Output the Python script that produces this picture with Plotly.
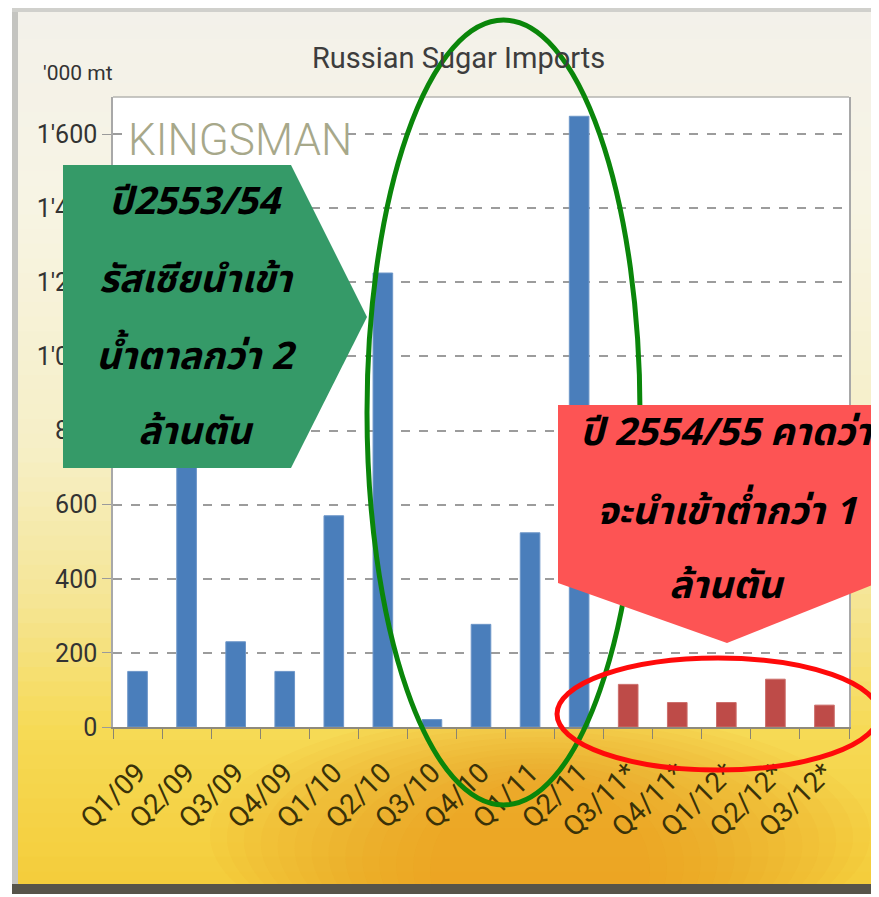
import plotly.graph_objects as go

# ---------------- data ----------------
actual_quarters = ["Q1/09", "Q2/09", "Q3/09", "Q4/09", "Q1/10", "Q2/10",
                   "Q3/10", "Q4/10", "Q1/11", "Q2/11"]
actual_imports = [150, 880, 230, 150, 570, 1225, 20, 277, 524, 1648]
forecast_quarters = ["Q3/11*", "Q4/11*", "Q1/12*", "Q2/12*", "Q3/12*"]
forecast_imports = [115, 66, 66, 129, 59]
all_quarters = actual_quarters + forecast_quarters
y_tick_values = [0, 200, 400, 600, 800, 1000, 1200, 1400, 1600]
y_tick_labels = ["0", "200", "400", "600", "800", "1'000", "1'200", "1'400", "1'600"]

title_text = "Russian Sugar Imports"
unit_text = "'000 mt"
watermark_text = "KINGSMAN"
green_lines = ["ปี2553/54", "รัสเซียนำเข้า", "น้ำตาลกว่า 2", "ล้านตัน"]
red_lines = ["ปี 2554/55 คาดว่า", "จะนำเข้าต่ำกว่า 1", "ล้านตัน"]

# ---------------- layout geometry (page pixels) ----------------
OFF = 8                      # default body margin of the html page
W, H = 879 - OFF, 897 - OFF
L, R, T, B = 113, 849, 97, 727


def px(x):
    return (x - L) / (R - L)


def py(y):
    return (B - y) / (B - T)


SANS = "Roboto, 'Noto Sans', sans-serif"
THAI = "'Noto Sans Thai', 'Loma', 'Tahoma', 'Noto Sans', sans-serif"

fig = go.Figure()
fig.add_trace(go.Bar(x=actual_quarters, y=actual_imports, width=0.4,
                     marker=dict(color="#4a7ebb", line=dict(color="#6d96c8", width=1)),
                     name="Actual"))
fig.add_trace(go.Bar(x=forecast_quarters, y=forecast_imports, width=0.4,
                     marker=dict(color="#be4b48", line=dict(color="#cc6e6b", width=1)),
                     name="Forecast"))

shapes = []


def hexc(c):
    c = c.lstrip("#")
    return tuple(int(c[i:i + 2], 16) for i in (0, 2, 4))


def interp(stops, y):
    for (y0, c0), (y1, c1) in zip(stops, stops[1:]):
        if y0 <= y <= y1:
            t = (y - y0) / (y1 - y0)
            a, b = hexc(c0), hexc(c1)
            return "rgb(%d,%d,%d)" % tuple(round(a[i] + (b[i] - a[i]) * t) for i in range(3))
    return stops[-1][1]


def rect(x0, x1, y0, y1, color, layer="below", opacity=1):
    return dict(type="rect", xref="paper", yref="paper", layer=layer,
                x0=px(x0), x1=px(x1), y0=py(y1), y1=py(y0),
                fillcolor=color, opacity=opacity, line=dict(width=0))


stops = [(10, "#f3f1ea"), (200, "#f7f4e4"), (450, "#f6efc6"), (600, "#f5e595"),
         (730, "#f6da55"), (890, "#f4cc3a")]
N = 60
y_start, y_end = 10, 886
step = (y_end - y_start) / N
for i in range(N):
    ya = y_start + i * step
    shapes.append(rect(15, 879, ya, ya + step + 0.8, interp(stops, ya + step / 2)))
# soft orange sunflower glow at bottom (many faint layers)
n_glow = 14
for k in range(n_glow):
    f = k / (n_glow - 1)
    half_w = 330 - 220 * f
    cx = 540
    top = 710 + 70 * f
    shapes.append(dict(type="circle", xref="paper", yref="paper", layer="below",
                       x0=px(cx - half_w), x1=px(cx + half_w), y0=py(960), y1=py(top),
                       fillcolor="#ec8c10", opacity=0.05, line=dict(width=0)))
# cover glow overflow below frame
shapes.append(rect(0, 879, 886, 900, "white"))
# frame borders
shapes.append(rect(12, 18, 8, 890, "#c4c4c0"))
shapes.append(rect(12, 879, 8, 12, "#d0d0cc"))
shapes.append(rect(12, 879, 884, 894, "#57544a"))
# white plot area and its light top border
shapes.append(rect(L, R, T, B, "white"))
shapes.append(dict(type="line", xref="paper", yref="paper", layer="below",
                   x0=0, x1=1, y0=1, y1=1, line=dict(color="#b4b4b0", width=1.5)))
# white patch behind the watermark (hides the grid line)
shapes.append(rect(124, 346, 116, 162, "white", layer="above"))

# green right-pointing callout
gpts = [(63, 165), (291, 165), (367, 317), (291, 468), (63, 468)]
shapes.append(dict(type="path", xref="paper", yref="paper", layer="above",
                   path="M " + " L ".join("%f,%f" % (px(x), py(y)) for x, y in gpts) + " Z",
                   fillcolor="#359a68", line=dict(width=0)))
# green ellipse
shapes.append(dict(type="circle", xref="paper", yref="paper", layer="above",
                   x0=px(367), x1=px(640), y0=py(805), y1=py(20),
                   line=dict(color="#0a860a", width=5)))
# red down-pointing callout
rpts = [(558, 405), (877, 405), (877, 583), (727, 643), (558, 583)]
shapes.append(dict(type="path", xref="paper", yref="paper", layer="above",
                   path="M " + " L ".join("%f,%f" % (px(x), py(y)) for x, y in rpts) + " Z",
                   fillcolor="#fd5454", line=dict(width=0)))
# red ellipse
shapes.append(dict(type="circle", xref="paper", yref="paper", layer="above",
                   x0=px(557), x1=px(879), y0=py(770), y1=py(658),
                   line=dict(color="#ff0a0a", width=5)))


def note(text, x, y, font, xanchor="center"):
    return dict(text=text, xref="paper", yref="paper", x=px(x), y=py(y),
                xanchor=xanchor, yanchor="middle", showarrow=False, font=font)


annotations = [
    note(title_text, 458, 58, dict(family=SANS, size=29, color="#3d3d3d")),
    note(unit_text, 78, 73, dict(family=SANS, size=21, color="#333333")),
    note(watermark_text, 126, 140, dict(family=SANS, size=44, color="#a7a88a", weight=300),
         xanchor="left"),
]
green_y = [203, 280, 357, 432]
for line, yy in zip(green_lines, green_y):
    annotations.append(note("<b><i>%s</i></b>" % line, 196, yy,
                            dict(family=THAI, size=38, color="#000000")))
red_y = [433, 512, 586]
for line, yy in zip(red_lines, red_y):
    annotations.append(note("<b><i>%s</i></b>" % line, 727, yy,
                            dict(family=THAI, size=38, color="#000000")))

fig.update_layout(
    width=W, height=H,
    margin=dict(l=L - OFF, r=W - (R - OFF), t=T - OFF, b=H - (B - OFF)),
    paper_bgcolor="white",
    plot_bgcolor="rgba(0,0,0,0)",
    barmode="overlay",
    showlegend=False,
    shapes=shapes,
    annotations=annotations,
    xaxis=dict(categoryorder="array", categoryarray=all_quarters,
               tickangle=-45, tickson="boundaries", ticks="outside", ticklen=10,
               tickcolor="#8a8470", tickwidth=1, ticklabelstandoff=16,
               showline=True, linecolor="#8e8a7c", linewidth=2, mirror=False,
               showgrid=False,
               tickfont=dict(family=SANS, size=28, color="#3a3208")),
    yaxis=dict(range=[0, 1700], tickvals=y_tick_values, ticktext=y_tick_labels,
               ticks="outside", ticklen=9, tickcolor="#9a9a9a",
               showline=True, linecolor="#a8a8a8", linewidth=1.5, mirror=True,
               showgrid=True, gridcolor="#9c9c9c", gridwidth=2, griddash="dash",
               zeroline=False,
               tickfont=dict(family=SANS, size=25, color="#333333")),
)

fig.write_html("out.html")
